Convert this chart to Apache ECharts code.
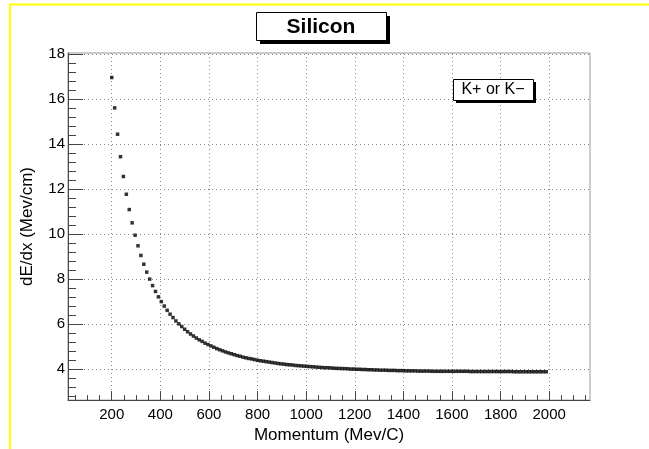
<!DOCTYPE html>
<html>
<head>
<meta charset="utf-8">
<script src="https://cdn.jsdelivr.net/npm/echarts@6/dist/echarts.min.js"></script>
<style>
html,body{margin:0;padding:0;background:#fff;}
#c{width:649px;height:449px;}
</style>
</head>
<body>
<div id="c"></div>
<script>
// Momentum (MeV/c)
const momentum = [
200,212,224,236,248,260,272,284,296,308,
320,332,344,356,368,380,392,404,416,428,
440,452,464,476,488,500,512,524,536,548,
560,572,584,596,608,620,632,644,656,668,
680,692,704,716,728,740,752,764,776,788,
800,812,824,836,848,860,872,884,896,908,
920,932,944,956,968,980,992,1004,1016,1028,
1040,1052,1064,1076,1088,1100,1112,1124,1136,1148,
1160,1172,1184,1196,1208,1220,1232,1244,1256,1268,
1280,1292,1304,1316,1328,1340,1352,1364,1376,1388,
1400,1412,1424,1436,1448,1460,1472,1484,1496,1508,
1520,1532,1544,1556,1568,1580,1592,1604,1616,1628,
1640,1652,1664,1676,1688,1700,1712,1724,1736,1748,
1760,1772,1784,1796,1808,1820,1832,1844,1856,1868,
1880,1892,1904,1916,1928,1940,1952,1964,1976,1988
];
// dE/dx (MeV/cm)
const dEdx = [
16.97,15.62,14.45,13.45,12.57,11.78,11.10,10.51,9.96,9.49,
9.06,8.67,8.32,8.01,7.72,7.46,7.22,7.01,6.81,6.62,
6.45,6.30,6.15,6.02,5.90,5.78,5.67,5.57,5.48,5.39,
5.31,5.24,5.16,5.10,5.04,4.98,4.92,4.87,4.82,4.77,
4.73,4.69,4.65,4.61,4.58,4.54,4.51,4.48,4.46,4.43,
4.40,4.38,4.36,4.34,4.32,4.30,4.28,4.26,4.24,4.23,
4.21,4.20,4.19,4.17,4.16,4.15,4.14,4.13,4.12,4.11,
4.10,4.09,4.08,4.07,4.07,4.06,4.05,4.04,4.04,4.03,
4.03,4.02,4.01,4.01,4.00,4.00,3.99,3.99,3.98,3.98,
3.97,3.97,3.96,3.96,3.96,3.95,3.95,3.95,3.94,3.94,
3.94,3.93,3.93,3.93,3.93,3.92,3.92,3.92,3.92,3.92,
3.91,3.91,3.91,3.91,3.91,3.91,3.91,3.91,3.91,3.91,
3.91,3.91,3.91,3.90,3.90,3.90,3.90,3.90,3.90,3.90,
3.90,3.90,3.90,3.90,3.90,3.90,3.90,3.90,3.89,3.89,
3.89,3.89,3.89,3.89,3.89,3.89,3.89,3.89,3.89,3.89
];
const xMajorTicks = [200,400,600,800,1000,1200,1400,1600,1800,2000];
const xMinorTicks = [50,100,150,200,250,300,350,400,450,500,550,600,650,700,750,800,850,900,950,1000,1050,1100,1150,1200,1250,1300,1350,1400,1450,1500,1550,1600,1650,1700,1750,1800,1850,1900,1950,2000,2050,2100,2150];
const yMajorTicks = [4,6,8,10,12,14,16,18];
const yMinorTicks = [2.8,3.2,3.6,4,4.4,4.8,5.2,5.6,6,6.4,6.8,7.2,7.6,8,8.4,8.8,9.2,9.6,10,10.4,10.8,11.2,11.6,12,12.4,12.8,13.2,13.6,14,14.4,14.8,15.2,15.6,16,16.4,16.8,17.2,17.6,18];
const titleText = 'Silicon';
const legendText = 'K+ or K\u2212';
const xTitle = 'Momentum (Mev/C)';
const yTitle = 'dE/dx (Mev/cm)';

const FONT = '"Liberation Sans", Arial, Helvetica, sans-serif';
const XMIN = 20, XMAX = 2168, YMIN = 2.63, YMAX = 18.06;
const axisCol = '#444';
const gridStyle = {color: '#888', width: 1, type: [1, 3]};
const plain = v => String(v);

const chart = echarts.init(document.getElementById('c'), null, {renderer: 'canvas'});
chart.setOption({
  animation: false,
  backgroundColor: '#fff',
  grid: {left: 68, top: 53, right: 59, bottom: 44, show: true, borderColor: '#999', borderWidth: 1, backgroundColor: 'transparent'},
  xAxis: [
    {
      type: 'value', min: XMIN, max: XMAX, position: 'bottom',
      name: xTitle, nameLocation: 'middle', nameGap: 23,
      nameTextStyle: {fontFamily: FONT, fontSize: 17, color: '#000'},
      axisLine: {show: true, onZero: false, lineStyle: {color: axisCol, width: 1}},
      axisTick: {show: true, inside: true, length: 9, customValues: xMajorTicks, lineStyle: {color: axisCol}},
      axisLabel: {show: true, customValues: xMajorTicks, formatter: plain, margin: 7, fontFamily: FONT, fontSize: 15, color: '#000'},
      splitLine: {show: true, lineStyle: gridStyle}
    },
    {
      type: 'value', min: XMIN, max: XMAX, position: 'bottom',
      axisLine: {show: false},
      axisTick: {show: true, inside: true, length: 5, customValues: xMinorTicks, lineStyle: {color: axisCol}},
      axisLabel: {show: false},
      splitLine: {show: false}
    }
  ],
  yAxis: [
    {
      type: 'value', min: YMIN, max: YMAX, position: 'left',
      name: yTitle, nameLocation: 'middle', nameGap: 32, nameRotate: 90,
      nameTextStyle: {fontFamily: FONT, fontSize: 17, color: '#000'},
      axisLine: {show: true, onZero: false, lineStyle: {color: axisCol, width: 1}},
      axisTick: {show: true, inside: true, length: 15, customValues: yMajorTicks, lineStyle: {color: axisCol}},
      axisLabel: {show: true, customValues: yMajorTicks, formatter: plain, margin: 3, fontFamily: FONT, fontSize: 15, color: '#000'},
      splitLine: {show: true, lineStyle: gridStyle}
    },
    {
      type: 'value', min: YMIN, max: YMAX, position: 'left',
      axisLine: {show: false},
      axisTick: {show: true, inside: true, length: 8, customValues: yMinorTicks, lineStyle: {color: axisCol}},
      axisLabel: {show: false},
      splitLine: {show: false}
    }
  ],
  series: [{
    type: 'scatter',
    xAxisIndex: 0, yAxisIndex: 0,
    symbol: 'rect', symbolSize: 3.5,
    itemStyle: {color: '#000'},
    data: momentum.map((m, i) => [m, dEdx[i]])
  }],
  graphic: [
    {type: 'line', z: 100, shape: {x1: 9, y1: 4.5, x2: 649, y2: 4.5}, style: {stroke: '#ffff00', lineWidth: 2}, silent: true},
    {type: 'line', z: 100, shape: {x1: 10, y1: 4, x2: 10, y2: 449}, style: {stroke: '#ffff00', lineWidth: 2}, silent: true},
    {type: 'rect', z: 100, shape: {x: 260, y: 16, width: 130, height: 28}, style: {fill: '#000'}, silent: true},
    {type: 'rect', z: 101, shape: {x: 256.5, y: 12.5, width: 130, height: 28}, style: {fill: '#fff', stroke: '#000', lineWidth: 1}, silent: true},
    {type: 'text', z: 102, x: 321, y: 27, style: {text: titleText, fontFamily: FONT, fontSize: 21, fontWeight: 'bold', fill: '#000', align: 'center', verticalAlign: 'middle'}, silent: true},
    {type: 'rect', z: 100, shape: {x: 456, y: 82, width: 80, height: 21}, style: {fill: '#000'}, silent: true},
    {type: 'rect', z: 101, shape: {x: 453.5, y: 79.5, width: 80, height: 21}, style: {fill: '#fff', stroke: '#000', lineWidth: 1}, silent: true},
    {type: 'text', z: 102, x: 493, y: 90, style: {text: legendText, fontFamily: FONT, fontSize: 16, fill: '#000', align: 'center', verticalAlign: 'middle'}, silent: true}
  ]
});
</script>
</body>
</html>
